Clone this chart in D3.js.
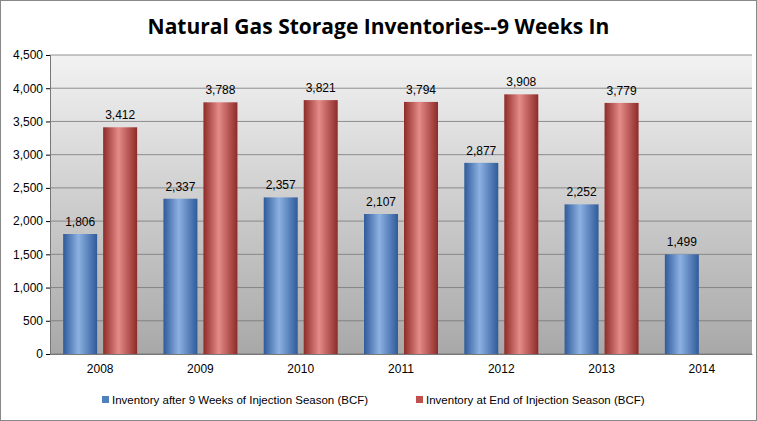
<!DOCTYPE html>
<html><head><meta charset="utf-8">
<script src="https://cdn.jsdelivr.net/npm/d3@7"></script>
<style>body{margin:0;background:#fff}</style>
</head><body>
<script>
const years = ["2008","2009","2010","2011","2012","2013","2014"];
const after9 = [1806,2337,2357,2107,2877,2252,1499];
const endSeason = [3412,3788,3821,3794,3908,3779,null];
const yTicks = [0,500,1000,1500,2000,2500,3000,3500,4000,4500];
const seriesNames = ["Inventory after 9 Weeks of Injection Season (BCF)","Inventory at End of Injection Season (BCF)"];

const W=757,H=421;
const svg=d3.select("body").append("svg").attr("width",W).attr("height",H);
const defs=svg.append("defs");
const bg=defs.append("linearGradient").attr("id","bg").attr("x1",0).attr("y1",0).attr("x2",0).attr("y2",1);
bg.append("stop").attr("offset",0).attr("stop-color","#f2f2f2");
bg.append("stop").attr("offset",1).attr("stop-color","#a8a8a8");
function cyl(id,dark,mid,light){
  const g=defs.append("linearGradient").attr("id",id);
  g.append("stop").attr("offset",0).attr("stop-color",dark);
  g.append("stop").attr("offset",0.45).attr("stop-color",light);
  g.append("stop").attr("offset",1).attr("stop-color",dark);
}
cyl("gb","#2f5b9a","#4f81bd","#8db1e2");
cyl("gr","#8e2b28","#c0504d","#e58b88");

svg.append("rect").attr("x",0.5).attr("y",0.5).attr("width",W-1).attr("height",H-1).attr("fill","#fff").attr("stroke","#888");
svg.append("text").attr("x",W/2).attr("y",34).attr("text-anchor","middle")
  .attr("font-family","Open Sans, sans-serif").attr("font-weight","bold").attr("font-size",21).text("Natural Gas Storage Inventories--9 Weeks In");

const L=50,R=752,T=55,B=354;
const x=d3.scaleBand().domain(years).range([L,R]);
const y=d3.scaleLinear().domain([0,4500]).range([B,T]);
svg.append("rect").attr("x",L).attr("y",T).attr("width",R-L).attr("height",B-T).attr("fill","url(#bg)");
svg.append("g").selectAll("line").data(yTicks).join("line")
  .attr("x1",L).attr("x2",R).attr("y1",d=>y(d)).attr("y2",d=>y(d)).attr("stroke","#777").attr("stroke-width",0.8);
const ya=svg.append("g").attr("transform",`translate(${L},0)`).call(d3.axisLeft(y).tickValues(yTicks).tickFormat(d3.format(",")).tickSize(4));
ya.selectAll("text").attr("font-family","Liberation Sans, sans-serif").attr("font-size",12).attr("fill","#000");
ya.select(".domain").attr("stroke","#777");
const xa=svg.append("g").attr("transform",`translate(0,${B})`).call(d3.axisBottom(x).tickSize(0).tickPadding(10));
xa.selectAll("text").attr("font-family","Liberation Sans, sans-serif").attr("font-size",12).attr("fill","#000");
xa.select(".domain").attr("stroke","#777");

const bw=34;
const fmt=d3.format(",");
function bars(vals,off,fill){
  const d=years.map((yr,i)=>({yr,v:vals[i]})).filter(d=>d.v!=null);
  const g=svg.append("g");
  g.selectAll("rect").data(d).join("rect")
    .attr("x",d=>x(d.yr)+x.bandwidth()/2+off).attr("width",bw)
    .attr("y",d=>y(d.v)).attr("height",d=>B-y(d.v)).attr("fill",fill);
  g.selectAll("text").data(d).join("text")
    .attr("x",d=>x(d.yr)+x.bandwidth()/2+off+bw/2).attr("y",d=>y(d.v)-8)
    .attr("text-anchor","middle").attr("font-family","Liberation Sans, sans-serif").attr("font-size",12).text(d=>fmt(d.v));
}
bars(after9,-37,"url(#gb)");
bars(endSeason,3,"url(#gr)");

const lg=svg.append("g");
const lx=[102,416];
seriesNames.forEach((n,i)=>{
  lg.append("rect").attr("x",lx[i]).attr("y",396).attr("width",7).attr("height",7).attr("fill",i?"#c0504d":"#4f81bd");
  lg.append("text").attr("x",lx[i]+10).attr("y",404).attr("font-family","Liberation Sans, sans-serif").attr("font-size",11.5).text(n);
});
</script>
</body></html>
